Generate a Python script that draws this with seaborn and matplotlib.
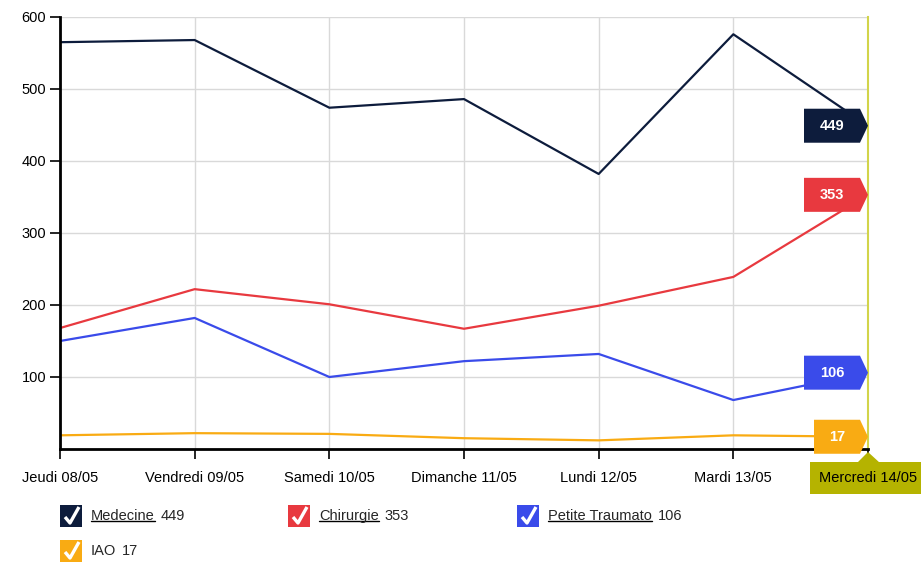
import matplotlib
matplotlib.use("Agg")
import matplotlib.pyplot as plt
import matplotlib.transforms as mtransforms
from matplotlib.patches import Polygon, Rectangle
from matplotlib.lines import Line2D
import pandas as pd
import seaborn as sns

# data
jours = ["Jeudi 08/05", "Vendredi 09/05", "Samedi 10/05", "Dimanche 11/05",
         "Lundi 12/05", "Mardi 13/05", "Mercredi 14/05"]
medecine = [565, 568, 474, 486, 382, 576, 449]
chirurgie = [168, 222, 201, 167, 199, 239, 353]
petite_traumato = [150, 182, 100, 122, 132, 68, 106]
iao = [19, 22, 21, 15, 12, 19, 17]

services = ["Medecine", "Chirurgie", "Petite Traumato", "IAO"]
colors = ["#0d1c3c", "#e8393f", "#3a4bea", "#f9ab13"]
palette = dict(zip(services, colors))

df = pd.concat([
    pd.DataFrame({"jour": range(len(jours)), "patients": vals, "service": name})
    for name, vals in zip(services, [medecine, chirurgie, petite_traumato, iao])
])

sns.set_theme(style="whitegrid")
plt.rcParams["font.family"] = ["Liberation Sans", "DejaVu Sans"]

W, H = 921, 563
fig = plt.figure(figsize=(W / 100, H / 100), dpi=100)
ax = fig.add_axes([60 / W, 1 - 449 / H, 808 / W, 432 / H])

sns.lineplot(data=df, x="jour", y="patients", hue="service", hue_order=services,
             palette=palette, linewidth=1.6, legend=False, ax=ax, sort=False)

ax.set_xlim(0, len(jours) - 1)
ax.set_ylim(0, 600)
ax.set_xticks(range(len(jours)))
ax.set_xticklabels(jours)
ax.set_yticks([100, 200, 300, 400, 500, 600])
ax.set_xlabel("")
ax.set_ylabel("")
ax.grid(True, color="#d9d9d9", linewidth=1)
ax.set_facecolor("white")

ax.spines["top"].set_visible(False)
ax.spines["left"].set_color("black")
ax.spines["left"].set_linewidth(2)
ax.spines["bottom"].set_color("black")
ax.spines["bottom"].set_linewidth(2)
ax.spines["right"].set_color("#d2d44a")
ax.spines["right"].set_linewidth(1.5)
ax.tick_params(axis="both", which="both", direction="out", length=7, width=1.2,
               color="black", labelsize=10.5, labelcolor="black")
ax.tick_params(axis="x", pad=9, bottom=True)
ax.tick_params(axis="y", pad=3, left=True)

# highlighted last day label
last = ax.get_xticklabels()[-1]
last.set_bbox(dict(boxstyle="square,pad=0.62", facecolor="#b5b300", edgecolor="none"))
tri_tr = fig.dpi_scale_trans + mtransforms.ScaledTranslation(len(jours) - 1, 0, ax.transData)
ax.add_patch(Polygon([(-0.11, -0.14), (0, -0.03), (0.12, -0.14)], closed=True,
                     facecolor="#b5b300", edgecolor="none", transform=tri_tr, clip_on=False))

# value tags at the last point
for name, vals, c in zip(services, [medecine, chirurgie, petite_traumato, iao], colors):
    v = vals[-1]
    w = 56 if v >= 100 else 46
    tr = fig.dpi_scale_trans + mtransforms.ScaledTranslation(len(jours) - 1, v, ax.transData)
    pts = [(0, 0), (-8, 17), (-8 - w, 17), (-8 - w, -17), (-8, -17)]
    ax.add_patch(Polygon([(x / 100, y / 100) for x, y in pts], closed=True,
                         facecolor=c, edgecolor="none", transform=tr, clip_on=False, zorder=5))
    ax.annotate(str(v), xy=(len(jours) - 1, v), xytext=((-8 - w / 2) * 0.72, 0),
                textcoords="offset points", ha="center", va="center", color="white",
                fontsize=10.5, fontweight="bold", zorder=6, annotation_clip=False,
                family=["Liberation Sans Narrow", "Liberation Sans", "DejaVu Sans"])

# legend with check boxes
renderer = fig.canvas.get_renderer()
legend_pos = [(60, 516), (288, 516), (517, 516), (60, 551)]
for (px, py), name, vals, c in zip(legend_pos, services,
                                   [medecine, chirurgie, petite_traumato, iao], colors):
    fig.patches.append(Rectangle(((px) / W, 1 - (py + 11) / H), 22 / W, 22 / H,
                                 facecolor=c, edgecolor="none", transform=fig.transFigure))
    fig.lines.append(Line2D([(px + 5) / W, (px + 10) / W, (px + 19) / W],
                            [1 - (py + 1) / H, 1 - (py + 7) / H, 1 - (py - 9) / H],
                            color="white", linewidth=2.4, transform=fig.transFigure,
                            solid_capstyle="butt"))
    t = fig.text((px + 31) / W, 1 - py / H, name, fontsize=10.5, va="center", ha="left")
    bb = t.get_window_extent(renderer)
    if name != "IAO":
        fig.lines.append(Line2D([bb.x0 / W, bb.x1 / W], [(bb.y0 + 2) / H] * 2,
                                color="black", linewidth=1, transform=fig.transFigure))
    fig.text((bb.x1 + 6) / W, 1 - py / H, str(vals[-1]), fontsize=10.5,
             va="center", ha="left")

fig.savefig("out.png", dpi=100)
